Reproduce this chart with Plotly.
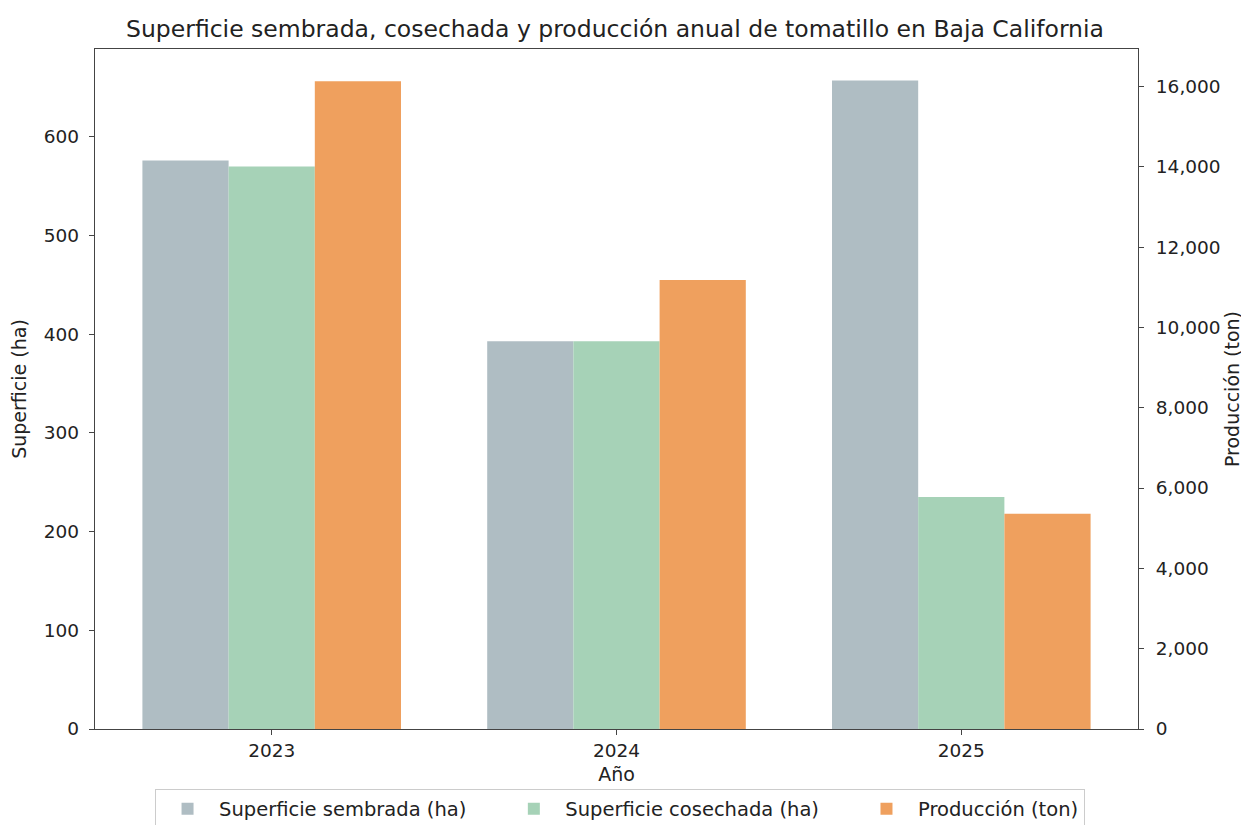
import plotly.graph_objects as go

years = ["2023", "2024", "2025"]
sembrada = [576, 393, 657]
cosechada = [570, 393, 235]
produccion = [16125, 11180, 5360]

names = ["Superficie sembrada (ha)", "Superficie cosechada (ha)", "Producción (ton)"]
colors = ["#AFBDC3", "#A6D2B7", "#EFA05E"]

pad = "\u00a0" * 5  # extra spacing between legend entries
xpos = list(range(len(years)))
fig = go.Figure()
fig.add_trace(go.Bar(x=xpos, y=sembrada, name=names[0] + pad, marker_color=colors[0],
                     width=0.25, offset=-0.375, marker_line_width=0, yaxis="y"))
fig.add_trace(go.Bar(x=xpos, y=cosechada, name=names[1] + pad, marker_color=colors[1],
                     width=0.25, offset=-0.125, marker_line_width=0, yaxis="y"))
fig.add_trace(go.Bar(x=xpos, y=produccion, name=names[2], marker_color=colors[2],
                     width=0.25, offset=0.125, marker_line_width=0, yaxis="y2"))

font = "DejaVu Sans, sans-serif"
tick_font = dict(family=font, size=18.5, color="#222")
lab_font = dict(family=font, size=19, color="#222")
axis_common = dict(showline=True, linecolor="#444", linewidth=1.3, ticks="outside",
                   ticklen=5, tickcolor="#444", showgrid=False, zeroline=False,
                   tickfont=tick_font, automargin=False)

fig.update_layout(
    width=1249, height=825,
    paper_bgcolor="white", plot_bgcolor="white",
    margin=dict(l=87, r=119, t=41, b=103.5, autoexpand=False),
    barmode="overlay",
    title=dict(text="Superficie sembrada, cosechada y producción anual de tomatillo en Baja California",
               x=607 / 1249, xanchor="center", y=1 - 21 / 825, yanchor="middle",
               font=dict(family=font, size=23.5, color="#222")),
    xaxis=dict(**axis_common, range=[-0.5125, 2.5125], tickvals=xpos, ticktext=years,
               mirror=True,
               title=dict(text="Año", font=lab_font, standoff=7)),
    yaxis=dict(**axis_common, range=[0, 689], tickvals=[0, 100, 200, 300, 400, 500, 600],
               ticklabelstandoff=6,
               title=dict(text="Superficie (ha)", font=lab_font, standoff=12)),
    yaxis2=dict(**axis_common, range=[0, 16930], overlaying="y", side="right",
                tickvals=list(range(0, 16001, 2000)), tickformat=",",
                ticklabelstandoff=8,
                title=dict(text="Producción (ton)", font=lab_font, standoff=3)),
    showlegend=True,
    legend=dict(orientation="h", x=0.5034, xanchor="center", y=-0.0875, yanchor="top",
                bordercolor="#CCCCCC", borderwidth=1, bgcolor="white",
                font=dict(family=font, size=19.5, color="#222"), itemwidth=53,
                traceorder="normal"),
)

fig.write_html("out.html")
